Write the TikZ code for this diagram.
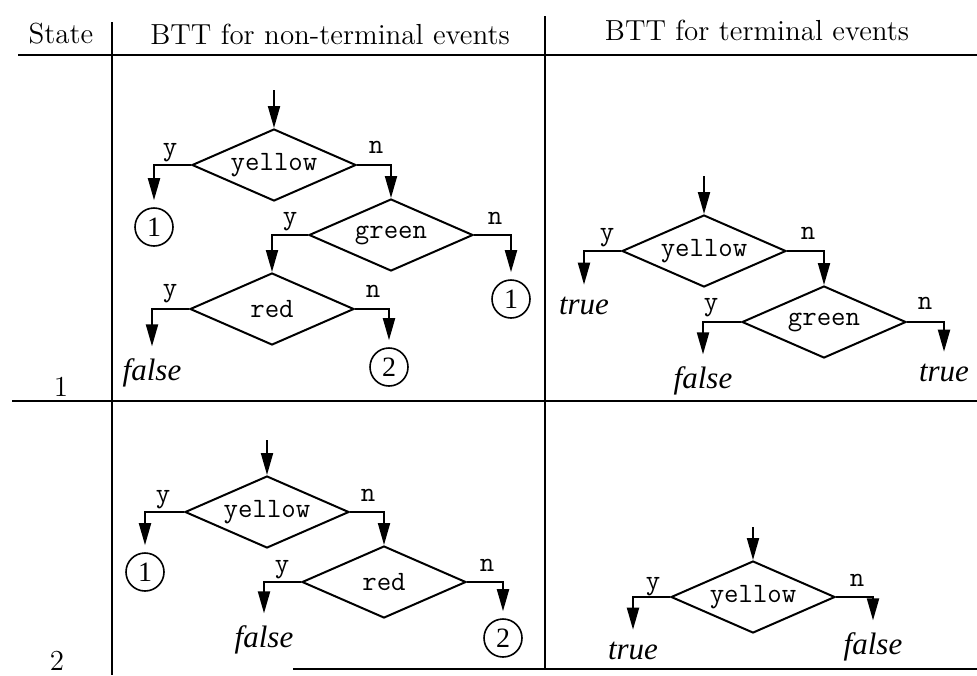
\documentclass[tikz,border=0pt]{standalone}
\usepackage{fontspec}
\newfontfamily\serfont{Liberation Serif}
\usetikzlibrary{shapes.geometric,arrows.meta}
\begin{document}
\begin{tikzpicture}[x=0.5pt,y=-0.5pt,
  dia/.style={draw,line width=1pt,shape=diamond,aspect=2.3,inner sep=0pt,
    minimum width=82pt,minimum height=36pt,font=\fontsize{14}{15}\ttfamily},
  yn/.style={font=\fontsize{14}{15}\ttfamily,inner sep=0pt},
  conn/.style={line width=1pt,-{Triangle[length=11pt,width=6pt]}},
  tocirc/.style={conn,shorten >=3.5pt},
  tores/.style={conn,shorten >=6pt},
  circ/.style={draw,circle,line width=0.8pt,minimum size=19pt,inner sep=0pt,
    font=\fontsize{14}{15}\serfont},
  res/.style={font=\fontsize{15.5}{16}\serfont\itshape,inner sep=0pt},
  hdr/.style={font=\fontsize{14.5}{16}\selectfont,inner sep=0pt},
  tline/.style={line width=0.8pt}]
\useasboundingbox (0,0) rectangle (977,675);

% table rules
\draw[tline] (18,55) -- (977,55);
\draw[tline] (12,401) -- (977,401);
\draw[tline] (293,669) -- (977,669);
\draw[tline] (112,22) -- (112,675);
\draw[tline] (545,16) -- (545,669);

% header
\node[hdr] (hstate) at (61,34) {State};
\node[hdr] (hnon) at (330,34) {BTT for non-terminal events};
\node[hdr] (hterm) at (757,30) {BTT for terminal events};
\node[hdr] (s1) at (61,387) {1};
\node[hdr] (s2) at (57,661) {2};

% ---------- state 1, non-terminal ----------
\coordinate (e1) at (274,90);
\node[dia] (ya) at (274,165) {yellow};
\node[yn] (ya-y) at (170,153) {y};
\node[yn] (ya-n) at (376,147) {n};
\node[circ] (c1a) at (154,227) {1};
\node[dia] (ga) at (391,235) {green};
\node[yn] (ga-y) at (290,222) {y};
\node[yn] (ga-n) at (495,218) {n};
\node[circ] (c1b) at (511,299) {1};
\node[dia] (ra) at (272,309) {red};
\node[yn] (ra-y) at (170,294) {y};
\node[yn] (ra-n) at (373,291) {n};
\node[res] (fa) at (152,373) {false};
\node[circ] (c2a) at (389,367) {2};

\draw[conn] (e1) -- (ya.north);
\draw[tocirc] (ya.west) -| (c1a);
\draw[conn] (ya.east) -| (ga.north);
\draw[conn] (ga.west) -| (ra.north);
\draw[tocirc] (ga.east) -| (c1b);
\draw[tores] (ra.west) -| (fa);
\draw[tocirc] (ra.east) -| (c2a);

% ---------- state 1, terminal ----------
\coordinate (e2) at (704,176);
\node[dia] (yb) at (704,251) {yellow};
\node[yn] (yb-y) at (607,238) {y};
\node[yn] (yb-n) at (808,233) {n};
\node[res] (tb1) at (584,306) {true};
\node[dia] (gb) at (824,322) {green};
\node[yn] (gb-y) at (711,308) {y};
\node[yn] (gb-n) at (925,303) {n};
\node[res] (fb) at (703,381) {false};
\node[res] (tb2) at (944,373) {true};

\draw[conn] (e2) -- (yb.north);
\draw[tores] (yb.west) -| (tb1);
\draw[conn] (yb.east) -| (gb.north);
\draw[tores] (gb.west) -| (fb);
\draw[tores] (gb.east) -| (tb2);

% ---------- state 2, non-terminal ----------
\coordinate (e3) at (267,440);
\node[dia] (yc) at (267,512) {yellow};
\node[yn] (yc-y) at (163,500) {y};
\node[yn] (yc-n) at (368,495) {n};
\node[circ] (c1c) at (145,572) {1};
\node[dia] (rc) at (384,582) {red};
\node[yn] (rc-y) at (282,570) {y};
\node[yn] (rc-n) at (487,565) {n};
\node[res] (fc) at (264,640) {false};
\node[circ] (c2c) at (503,638) {2};

\draw[conn] (e3) -- (yc.north);
\draw[tocirc] (yc.west) -| (c1c);
\draw[conn] (yc.east) -| (rc.north);
\draw[tores] (rc.west) -| (fc);
\draw[tocirc] (rc.east) -| (c2c);

% ---------- state 2, terminal ----------
\coordinate (e4) at (753,527);
\node[dia] (yd) at (753,597) {yellow};
\node[yn] (yd-y) at (653,587) {y};
\node[yn] (yd-n) at (857,580) {n};
\node[res] (td) at (633,651) {true};
\node[res] (fd) at (873,647) {false};

\draw[conn] (e4) -- (yd.north);
\draw[tores] (yd.west) -| (td);
\draw[tores] (yd.east) -| (fd);
\end{tikzpicture}
\end{document}
